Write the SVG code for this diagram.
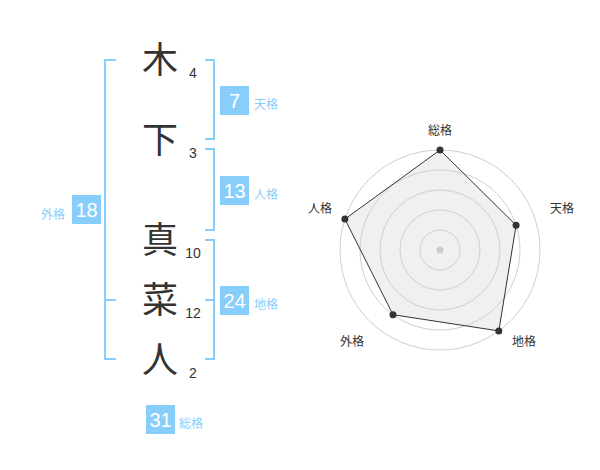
<svg xmlns="http://www.w3.org/2000/svg" width="600" height="470" viewBox="0 0 600 470">
<style>
.ch{font-family:"Noto Sans CJK JP","Noto Sans CJK SC",sans-serif;font-size:36px;fill:#333;text-anchor:middle}
.st{font-family:"Liberation Sans",Arial,sans-serif;font-size:14px;fill:#333;text-anchor:middle}
.box{fill:#87cefa}
.bn{font-family:"Liberation Sans",Arial,sans-serif;font-size:20px;fill:#fff;text-anchor:middle}
.lb{font-family:"Noto Sans CJK JP","Noto Sans CJK SC",sans-serif;font-size:12px;fill:#87cefa}
.br{fill:none;stroke:#87cefa;stroke-width:2}
.ring{fill:none;stroke:#cfcfcf;stroke-width:1}
.rl{font-family:"Noto Sans CJK JP","Noto Sans CJK SC",sans-serif;font-size:12px;fill:#333;text-anchor:middle}
.dot{fill:#333}
</style>
<rect width="600" height="470" fill="#fff"/>
<g id="connectors">
<path class="br" d="M116,60 H105 V359 H116 M105,300 H116"/>
<path class="br" d="M205,60 H214 V139 H205"/>
<path class="br" d="M205,149 H214 V230 H205"/>
<path class="br" d="M205,240 H214 V359 H205 M214,300 H205"/>
</g>
<g id="char-1"><text class="ch" x="160" y="73">木</text><text class="st" x="193" y="78">4</text></g>
<g id="char-2"><text class="ch" x="160" y="153">下</text><text class="st" x="193" y="158">3</text></g>
<g id="char-3"><text class="ch" x="160" y="253">真</text><text class="st" x="193" y="258">10</text></g>
<g id="char-4"><text class="ch" x="160" y="313">菜</text><text class="st" x="193" y="318">12</text></g>
<g id="char-5"><text class="ch" x="160" y="373">人</text><text class="st" x="193" y="378">2</text></g>
<g id="tenkaku"><rect class="box" x="220" y="86" width="29" height="29"/><text class="bn" x="234.5" y="107.5">7</text><text class="lb" x="254" y="109">天格</text></g>
<g id="jinkaku"><rect class="box" x="220" y="176" width="29" height="29"/><text class="bn" x="234.5" y="197.5">13</text><text class="lb" x="254" y="199">人格</text></g>
<g id="chikaku"><rect class="box" x="220" y="286" width="29" height="29"/><text class="bn" x="234.5" y="307.5">24</text><text class="lb" x="254" y="309">地格</text></g>
<g id="gaikaku"><rect class="box" x="72" y="195" width="29" height="29"/><text class="bn" x="86.5" y="216.5">18</text><text class="lb" x="41" y="219">外格</text></g>
<g id="soukaku"><rect class="box" x="146" y="405" width="29" height="29"/><text class="bn" x="160.5" y="426.5">31</text><text class="lb" x="179" y="428">総格</text></g>
<g id="radar">
<polygon points="440,150 516.1,225.3 498.8,330.9 393,314.7 344.9,219.1" fill="#f0f0f0" stroke="none"/>
<circle class="ring" cx="440" cy="250" r="20"/>
<circle class="ring" cx="440" cy="250" r="40"/>
<circle class="ring" cx="440" cy="250" r="60"/>
<circle class="ring" cx="440" cy="250" r="80"/>
<circle class="ring" cx="440" cy="250" r="100"/>
<circle cx="440" cy="250" r="3.5" fill="#ccc"/>
<polygon points="440,150 516.1,225.3 498.8,330.9 393,314.7 344.9,219.1" fill="none" stroke="#333" stroke-width="1"/>
<circle class="dot" cx="440" cy="150" r="3.5"/>
<circle class="dot" cx="516.1" cy="225.3" r="3.5"/>
<circle class="dot" cx="498.8" cy="330.9" r="3.5"/>
<circle class="dot" cx="393" cy="314.7" r="3.5"/>
<circle class="dot" cx="344.9" cy="219.1" r="3.5"/>
<text class="rl" x="440" y="135">総格</text>
<text class="rl" x="562" y="213">天格</text>
<text class="rl" x="524" y="346">地格</text>
<text class="rl" x="352" y="346">外格</text>
<text class="rl" x="320" y="213">人格</text>
</g>
</svg>
